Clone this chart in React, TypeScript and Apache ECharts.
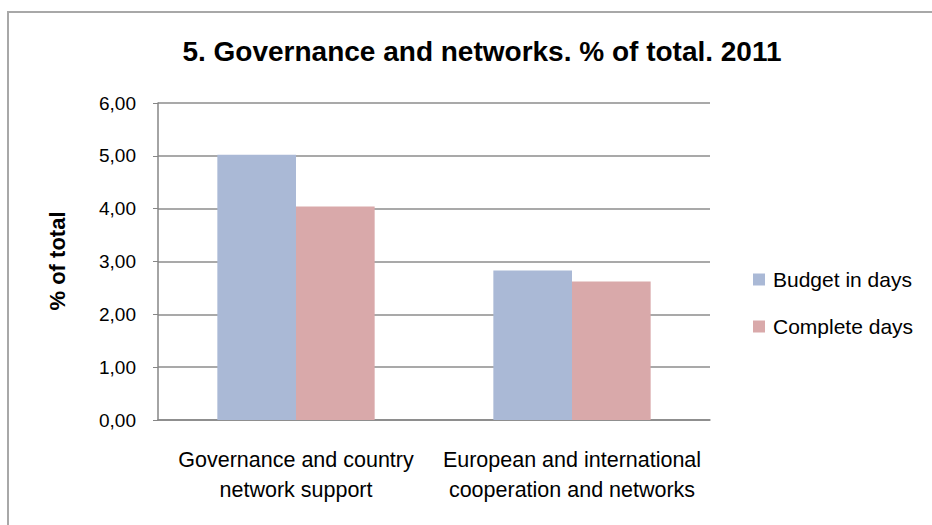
import React, { useEffect, useRef } from "react";
import * as echarts from "echarts";

// Chart data
const categories: string[] = [
  "Governance and country\nnetwork support",
  "European and international\ncooperation and networks",
];
const budgetInDays: number[] = [5.02, 2.83];
const completeDays: number[] = [4.04, 2.62];
const seriesNames: string[] = ["Budget in days", "Complete days"];
const yTicks = { min: 0, max: 6, interval: 1 };

const titleText = "5. Governance and networks. % of total. 2011";
const yAxisTitle = "% of total";

const FONT = '"Liberation Sans", Arial, sans-serif';

export default function App() {
  const ref = useRef<HTMLDivElement>(null);

  useEffect(() => {
    if (!ref.current) return;
    const chart = echarts.init(ref.current, undefined, { renderer: "svg" });
    chart.setOption({
      animation: false,
      backgroundColor: "#ffffff",
      title: {
        text: titleText,
        left: 477,
        textAlign: "center",
        top: 32,
        textStyle: {
          fontFamily: FONT,
          fontWeight: "bold",
          fontSize: 28,
          color: "#000000",
        },
      },
      graphic: [
        {
          type: "rect",
          shape: { x: 8, y: 12, width: 960, height: 560 },
          style: { fill: "none", stroke: "#a8a8a8", lineWidth: 2 },
          silent: true,
        },
        {
          type: "text",
          x: 57,
          y: 261,
          rotation: Math.PI / 2,
          style: {
            text: yAxisTitle,
            fontFamily: FONT,
            fontWeight: "bold",
            fontSize: 22,
            fill: "#000000",
            align: "center",
            verticalAlign: "middle",
          },
        },
      ],
      legend: {
        orient: "vertical",
        left: 753,
        top: 269,
        padding: 0,
        itemWidth: 12,
        itemHeight: 12,
        itemGap: 26,
        icon: "rect",
        data: seriesNames,
        textStyle: {
          fontFamily: FONT,
          fontSize: 21,
          color: "#000000",
          padding: [0, 0, 0, 3],
        },
      },
      grid: {
        left: 158,
        right: 222,
        top: 103,
        bottom: 105,
        containLabel: false,
      },
      xAxis: {
        type: "category",
        data: categories,
        axisLine: { show: true, lineStyle: { color: "#868686", width: 1.5 } },
        axisTick: { show: false },
        axisLabel: {
          fontFamily: FONT,
          fontSize: 21.5,
          color: "#000000",
          lineHeight: 30,
          margin: 25,
          interval: 0,
        },
      },
      yAxis: {
        type: "value",
        min: yTicks.min,
        max: yTicks.max,
        interval: yTicks.interval,
        axisLine: { show: true, lineStyle: { color: "#868686", width: 1.5 } },
        axisTick: { show: true, length: 5, lineStyle: { color: "#868686" } },
        splitLine: { show: true, lineStyle: { color: "#8c8c8c", width: 1.5 } },
        axisLabel: {
          fontFamily: FONT,
          fontSize: 19,
          color: "#000000",
          margin: 22,
          formatter: (v: number) => v.toFixed(2).replace(".", ","),
        },
      },
      series: [
        {
          name: seriesNames[0],
          type: "bar",
          data: budgetInDays,
          barGap: "0%",
          barCategoryGap: "43%",
          itemStyle: { color: "#aab9d6" },
        },
        {
          name: seriesNames[1],
          type: "bar",
          data: completeDays,
          barGap: "0%",
          barCategoryGap: "43%",
          itemStyle: { color: "#d9a9aa" },
        },
      ],
    });
    return () => chart.dispose();
  }, []);

  return (
    <div
      ref={ref}
      style={{ position: "fixed", left: 0, top: 0, width: 932, height: 525 }}
    />
  );
}
